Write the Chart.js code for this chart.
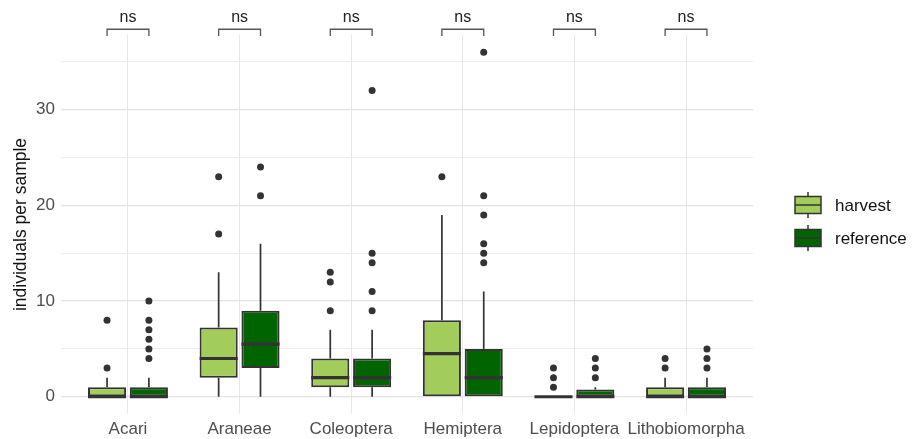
<!DOCTYPE html>
<html>
<head>
<meta charset="utf-8">
<script src="https://cdn.jsdelivr.net/npm/chart.js@4"></script>
<style>
  html, body { margin: 0; padding: 0; background: #fff; }
  #wrap { width: 915px; height: 439px; }
</style>
</head>
<body>
<div id="wrap"><canvas id="chart"></canvas></div>
<script>
const categories = ["Acari", "Araneae", "Coleoptera", "Hemiptera", "Lepidoptera", "Lithobiomorpha"]

// harvest
const harvestQ1 = [0, 2, 1, 0, 0, 0]
const harvestMedian = [0, 4, 2, 4.5, 0, 0]
const harvestQ3 = [1, 7.25, 4, 8, 0, 1]
const harvestLow = [0, 0, 0, 0, 0, 0]
const harvestHigh = [2, 13, 7, 19, 0, 2]
const harvestOutliers = [[3, 8], [17, 23], [9, 12, 13], [23], [1, 2, 3], [3, 4]]

// reference
const refQ1 = [0, 3, 1, 0, 0, 0]
const refMedian = [0, 5.5, 2, 2, 0, 0]
const refQ3 = [1, 9, 4, 5, 0.75, 1]
const refLow = [0, 0, 0, 0, 0, 0]
const refHigh = [2, 16, 7, 11, 1, 2]
const refOutliers = [[4, 5, 6, 7, 8, 10], [21, 24], [9, 11, 14, 15, 32], [14, 15, 16, 19, 21, 36], [2, 3, 4], [3, 4, 5]]

const yTicks = [0, 5, 10, 15, 20, 25, 30, 35]
const signifLabels = ["ns", "ns", "ns", "ns", "ns", "ns"]
const seriesNames = ["harvest", "reference"]

const harvestColor = "#a2cd5a"
const refColor = "#006400"
const ink = "#333333"

const stats = [
  { median: harvestMedian, low: harvestLow, high: harvestHigh, outliers: harvestOutliers },
  { median: refMedian, low: refLow, high: refHigh, outliers: refOutliers }
]

// whiskers, medians, outliers, brackets and legend
const boxExtras = {
  id: "boxExtras",
  afterDatasetsDraw(chart) {
    const ctx = chart.ctx
    const y = chart.scales.y
    ctx.save()
    stats.forEach((s, di) => {
      const meta = chart.getDatasetMeta(di)
      meta.data.forEach((bar, i) => {
        const x = bar.x
        const half = bar.width / 2
        const data = chart.data.datasets[di].data[i]
        ctx.strokeStyle = ink
        ctx.lineWidth = 1.7
        ctx.beginPath()
        if (s.high[i] > data[1]) {
          ctx.moveTo(x, y.getPixelForValue(data[1]))
          ctx.lineTo(x, y.getPixelForValue(s.high[i]))
        }
        if (s.low[i] < data[0]) {
          ctx.moveTo(x, y.getPixelForValue(data[0]))
          ctx.lineTo(x, y.getPixelForValue(s.low[i]))
        }
        ctx.stroke()
        // median
        ctx.lineWidth = 3.2
        ctx.beginPath()
        const my = y.getPixelForValue(s.median[i])
        ctx.moveTo(x - half, my)
        ctx.lineTo(x + half, my)
        ctx.stroke()
        // outliers
        ctx.fillStyle = ink
        s.outliers[i].forEach(v => {
          ctx.beginPath()
          ctx.arc(x, y.getPixelForValue(v), 3.5, 0, Math.PI * 2)
          ctx.fill()
        })
      })
    })

    // significance brackets
    const m0 = chart.getDatasetMeta(0).data
    const m1 = chart.getDatasetMeta(1).data
    const yb = y.getPixelForValue(38.4)
    const yt = y.getPixelForValue(37.7)
    ctx.strokeStyle = "#555"
    ctx.lineWidth = 1.3
    ctx.fillStyle = "#222"
    ctx.font = "16px 'Liberation Sans', Arial, sans-serif"
    ctx.textAlign = "center"
    ctx.textBaseline = "alphabetic"
    signifLabels.forEach((lab, i) => {
      const x0 = m0[i].x, x1 = m1[i].x
      ctx.beginPath()
      ctx.moveTo(x0, yt)
      ctx.lineTo(x0, yb)
      ctx.lineTo(x1, yb)
      ctx.lineTo(x1, yt)
      ctx.stroke()
      ctx.fillText(lab, (x0 + x1) / 2, yb - 7)
    })

    // legend
    const keys = [[harvestColor, 205], [refColor, 238]]
    keys.forEach(([col, cy], k) => {
      const kx = 795, kw = 26, kh = 17
      ctx.strokeStyle = ink
      ctx.lineWidth = 1.5
      ctx.beginPath()
      ctx.moveTo(kx + kw / 2, cy - 13)
      ctx.lineTo(kx + kw / 2, cy + 13)
      ctx.stroke()
      ctx.fillStyle = col
      ctx.fillRect(kx, cy - kh / 2, kw, kh)
      ctx.strokeRect(kx, cy - kh / 2, kw, kh)
      ctx.beginPath()
      ctx.moveTo(kx, cy)
      ctx.lineTo(kx + kw, cy)
      ctx.stroke()
      ctx.fillStyle = "#111"
      ctx.font = "17px 'Liberation Sans', Arial, sans-serif"
      ctx.textAlign = "left"
      ctx.textBaseline = "middle"
      ctx.fillText(seriesNames[k], 835, cy + 1)
    })
    ctx.restore()
  }
}

new Chart(document.getElementById("chart"), {
  type: "bar",
  data: {
    labels: categories,
    datasets: [
      {
        label: seriesNames[0],
        data: harvestQ1.map((q, i) => [q, harvestQ3[i]]),
        backgroundColor: harvestColor,
        borderColor: ink,
        borderWidth: 2,
        borderSkipped: false,
        categoryPercentage: 0.75,
        barPercentage: 0.91
      },
      {
        label: seriesNames[1],
        data: refQ1.map((q, i) => [q, refQ3[i]]),
        backgroundColor: refColor,
        borderColor: ink,
        borderWidth: 2,
        borderSkipped: false,
        categoryPercentage: 0.75,
        barPercentage: 0.91
      }
    ]
  },
  options: {
    responsive: true,
    maintainAspectRatio: false,
    animation: false,
    layout: { padding: { top: 35, right: 162, left: 0, bottom: 0 } },
    plugins: {
      legend: { display: false },
      tooltip: { enabled: false }
    },
    scales: {
      x: {
        type: "category",
        offset: true,
        afterBuildTicks(scale) {
          // ggplot style 0.6 expansion on a discrete axis
          scale._startValue = -0.6
          scale._valueRange = categories.length - 1 + 1.2
        },
        afterFit(scale) { scale.height = 25 },
        grid: { offset: false, color: "#e8e8e8", lineWidth: 1, drawTicks: false },
        border: { display: false },
        ticks: {
          color: "#4d4d4d",
          padding: 5,
          maxRotation: 0,
          autoSkip: false,
          font: { family: "'Liberation Sans', Arial, sans-serif", size: 17 }
        }
      },
      y: {
        min: -1.8,
        max: 37.8,
        afterBuildTicks(scale) { scale.ticks = yTicks.map(v => ({ value: v })) },
        afterFit(scale) { scale.width = 61 },
        grid: {
          drawTicks: false,
          color: c => (c.tick && c.tick.value % 10 === 0 ? "#e3e3e3" : "#ededed"),
          lineWidth: c => (c.tick && c.tick.value % 10 === 0 ? 1.2 : 1)
        },
        border: { display: false },
        title: {
          display: true,
          text: "individuals per sample",
          color: "#111",
          padding: { top: 11, bottom: 0 },
          font: { family: "'Liberation Sans', Arial, sans-serif", size: 17.5 }
        },
        ticks: {
          color: "#4d4d4d",
          padding: 6,
          callback: v => (v % 10 === 0 ? v : ""),
          font: { family: "'Liberation Sans', Arial, sans-serif", size: 17 }
        }
      }
    }
  },
  plugins: [boxExtras]
})
</script>
</body>
</html>
